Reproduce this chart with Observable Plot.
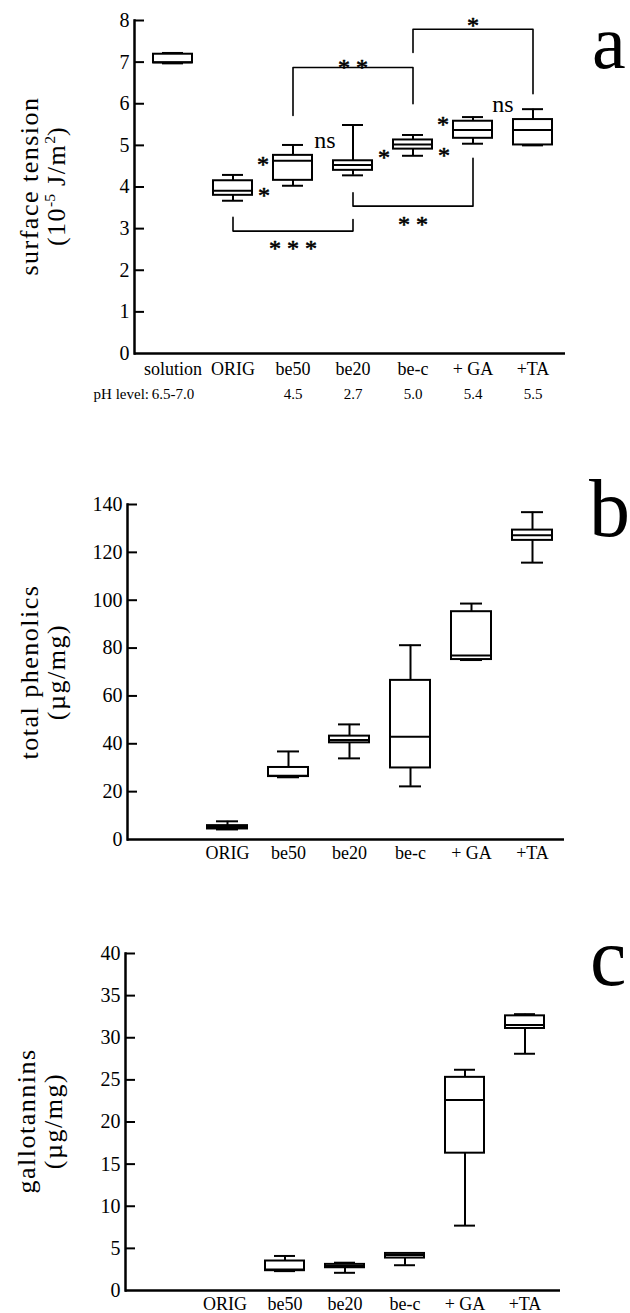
<!DOCTYPE html>
<html><head><meta charset="utf-8">
<script src="https://cdn.jsdelivr.net/npm/d3@7"></script>
<script src="https://cdn.jsdelivr.net/npm/@observablehq/plot@0.6"></script>
<style>
body{margin:0;background:#fff;width:630px;height:1313px;position:relative;overflow:hidden;font-family:"Liberation Serif","Times New Roman",serif;color:#000}
.panel{position:absolute;left:0}
.ytitle{position:absolute;width:320px;text-align:center;font-size:26px;line-height:27px;letter-spacing:1.5px;transform:translate(-50%,-50%) rotate(-90deg);white-space:nowrap}
.ytitle sup{font-size:0.6em;vertical-align:0.65em;line-height:0;letter-spacing:0}
.letter{position:absolute;font-size:82px;line-height:0.8}
</style></head><body>
<div id="pa" class="panel" style="top:0"></div>
<div id="pb" class="panel" style="top:430px"></div>
<div id="pc" class="panel" style="top:880px"></div>
<div class="ytitle" style="left:43px;top:186px">surface tension<br>(10<sup>-5</sup> J/m<sup>2</sup>)</div>
<div class="ytitle" style="left:43px;top:672px">total phenolics<br>(µg/mg)</div>
<div class="ytitle" style="left:40px;top:1121px">gallotannins<br>(µg/mg)</div>
<div class="letter" style="left:592px;top:12px;font-size:76px">a</div>
<div class="letter" style="left:589px;top:476px">b</div>
<div class="letter" style="left:590px;top:925px">c</div>
<script>
// ---------- Panel a: surface tension ----------
const catsA = ["solution","ORIG","be50","be20","be-c","+ GA","+TA"];
const stMin = [6.97, 3.67, 4.03, 4.28, 4.75, 5.04, 5.00];
const stQ1  = [6.98, 3.80, 4.16, 4.40, 4.91, 5.17, 5.01];
const stMed = [7.00, 3.91, 4.63, 4.53, 5.02, 5.37, 5.37];
const stQ3  = [7.19, 4.15, 4.76, 4.63, 5.13, 5.58, 5.62];
const stMax = [7.22, 4.29, 5.01, 5.49, 5.25, 5.68, 5.87];
const ticksA = [0,1,2,3,4,5,6,7,8];

const phCats = ["solution","be50","be20","be-c","+ GA","+TA"];
const phVals = ["6.5-7.0","4.5","2.7","5.0","5.4","5.5"];

// significance brackets
const brFrom = ["be50","be-c","ORIG","be20"];
const brTo   = ["be-c","+TA","be20","+ GA"];
const brLegFrom = [5.72, 7.23, 3.27, 3.86];
const brLegTo   = [6.00, 6.24, 3.22, 4.69];
const brLevel   = [6.87, 7.79, 2.94, 3.54];
const brLabel    = ["* *","*","* * *","* *"];
const brLabelCat = ["be20","+ GA","be50","be-c"];
const brLabelY   = [6.87, 7.88, 2.52, 3.11];

// markers beside boxes
const mkCat  = ["ORIG","be50","be50","be20","be-c","+ GA","+TA"];
const mkSide = ["right","left","right","right","right","left","left"];
const mkText = ["*","*","ns","*","*","*","ns"];
const mkY    = [3.79, 4.55, 5.12, 4.71, 4.75, 5.51, 5.98];

// ---------- Panel b: total phenolics ----------
const catsB = ["ORIG","be50","be20","be-c","+ GA","+TA"];
const tpMin = [4.2, 26.0, 33.9, 22.2, 75.0, 115.7];
const tpQ1  = [4.4, 26.3, 40.4, 29.9, 75.2, 125.0];
const tpMed = [5.2, 26.6, 41.6, 42.9, 76.9, 127.1];
const tpQ3  = [5.8, 30.1, 43.2, 66.5, 95.2, 129.3];
const tpMax = [7.6, 36.8, 48.1, 81.2, 98.6, 136.8];
const ticksB = [0,20,40,60,80,100,120,140];

// ---------- Panel c: gallotannins ----------
const catsC = ["ORIG","be50","be20","be-c","+ GA","+TA"];
const gtCats = ["be50","be20","be-c","+ GA","+TA"];
const gtMin = [2.3, 2.1, 3.0, 7.7, 28.1];
const gtQ1  = [2.35, 2.7, 3.85, 16.3, 31.1];
const gtMed = [2.5, 2.9, 4.2, 22.6, 31.5];
const gtQ3  = [3.5, 3.1, 4.4, 25.3, 32.6];
const gtMax = [4.1, 3.3, 4.45, 26.2, 32.8];
const ticksC = [0,5,10,15,20,25,30,35,40];

const W = 630;
const rowsOf = (cats, mn, q1, md, q3, mx) => cats.map((c,i)=>({cat:c,min:mn[i],q1:q1[i],med:md[i],q3:q3[i],max:mx[i]}));

function panel(o){
  const fw = W - o.ml - o.mr;
  const sw = 2;
  const marks = [
    Plot.ruleX(o.rows,{x:"cat",y1:"q3",y2:"max",strokeWidth:sw}),
    Plot.ruleX(o.rows,{x:"cat",y1:"min",y2:"q1",strokeWidth:sw}),
    Plot.tickY(o.rows,{x:"cat",y:"max",insetLeft:9,insetRight:9,strokeWidth:sw}),
    Plot.tickY(o.rows,{x:"cat",y:"min",insetLeft:9,insetRight:9,strokeWidth:sw}),
    Plot.barY(o.rows,{x:"cat",y1:"q1",y2:"q3",fill:"white",stroke:"black",strokeWidth:sw}),
    Plot.tickY(o.rows,{x:"cat",y:"med",strokeWidth:sw}),
    Plot.ruleY(o.ticks.filter(t=>t>o.ticks[0]),{insetRight:fw-10,strokeWidth:2}),
    Plot.ruleY([o.ticks[0]],{strokeWidth:2.5}),
    Plot.frame({anchor:"left",strokeWidth:2.5}),
    Plot.axisY({ticks:o.ticks,tickSize:0,tickPadding:5,fontSize:20,label:null}),
    Plot.axisX({tickSize:0,tickPadding:o.xPad,fontSize:18,label:null}),
    ...(o.extra||[])
  ];
  return Plot.plot({
    width:W,height:o.h,marginLeft:o.ml,marginRight:o.mr,marginTop:o.mt,marginBottom:o.mb,
    style:{fontFamily:'"Liberation Serif","Times New Roman",serif',background:"white",color:"black",overflow:"visible"},
    x:{type:"band",domain:o.cats,range:[o.r0,o.r1],paddingInner:0.344,paddingOuter:0.172,align:0.5},
    y:{domain:[o.ticks[0],o.ticks[o.ticks.length-1]]},
    marks
  });
}

// bracket points
const brPts = [];
brFrom.forEach((f,i)=>{
  brPts.push({id:i,cat:f,v:brLegFrom[i]},{id:i,cat:f,v:brLevel[i]},{id:i,cat:brTo[i],v:brLevel[i]},{id:i,cat:brTo[i],v:brLegTo[i]});
});
const brLab = brLabel.map((t,i)=>({cat:brLabelCat[i],v:brLabelY[i],t}));
const mk = mkCat.map((c,i)=>({cat:c,side:mkSide[i],t:mkText[i],v:mkY[i]}));
const ph = phCats.map((c,i)=>({cat:c,t:phVals[i]}));

const ast = {fill:"black",stroke:"black",strokeWidth:0.6,fontSize:24};
const extraA = [
  Plot.line(brPts,{x:"cat",y:"v",z:"id",stroke:"black",strokeWidth:1.6}),
  Plot.text(brLab,{x:"cat",y:"v",text:"t",...ast}),
  Plot.text(mk.filter(d=>d.side==="right"&&d.t!=="ns"),{x:"cat",y:"v",text:"t",dx:31,...ast}),
  Plot.text(mk.filter(d=>d.side==="left"&&d.t!=="ns"),{x:"cat",y:"v",text:"t",dx:-30,...ast}),
  Plot.text(mk.filter(d=>d.side==="right"&&d.t==="ns"),{x:"cat",y:"v",text:"t",dx:32,fontSize:24}),
  Plot.text(mk.filter(d=>d.side==="left"&&d.t==="ns"),{x:"cat",y:"v",text:"t",dx:-30,fontSize:24}),
  Plot.text(ph,{x:"cat",text:"t",frameAnchor:"bottom",dy:45,fontSize:15}),
  Plot.text(["pH level:"],{x:()=>"solution",text:d=>d,frameAnchor:"bottom",dy:45,dx:-24,textAnchor:"end",fontSize:15})
];

document.getElementById("pa").append(panel({
  cats:catsA,rows:rowsOf(catsA,stMin,stQ1,stMed,stQ3,stMax),ticks:ticksA,
  ml:134,mr:65,mt:20,mb:57,h:410,r0:139.6,r1:565.4,xPad:9,extra:extraA
}));
document.getElementById("pb").append(panel({
  cats:catsB,rows:rowsOf(catsB,tpMin,tpQ1,tpMed,tpQ3,tpMax),ticks:ticksB,
  ml:127,mr:66,mt:74,mb:41,h:450,r0:196.4,r1:563.6,xPad:7
}));
document.getElementById("pc").append(panel({
  cats:catsC,rows:rowsOf(gtCats,gtMin,gtQ1,gtMed,gtQ3,gtMax),ticks:ticksC,
  ml:125,mr:70,mt:73,mb:23,h:433,r0:192.6,r1:557.4,xPad:7
}));
</script>
</body></html>
